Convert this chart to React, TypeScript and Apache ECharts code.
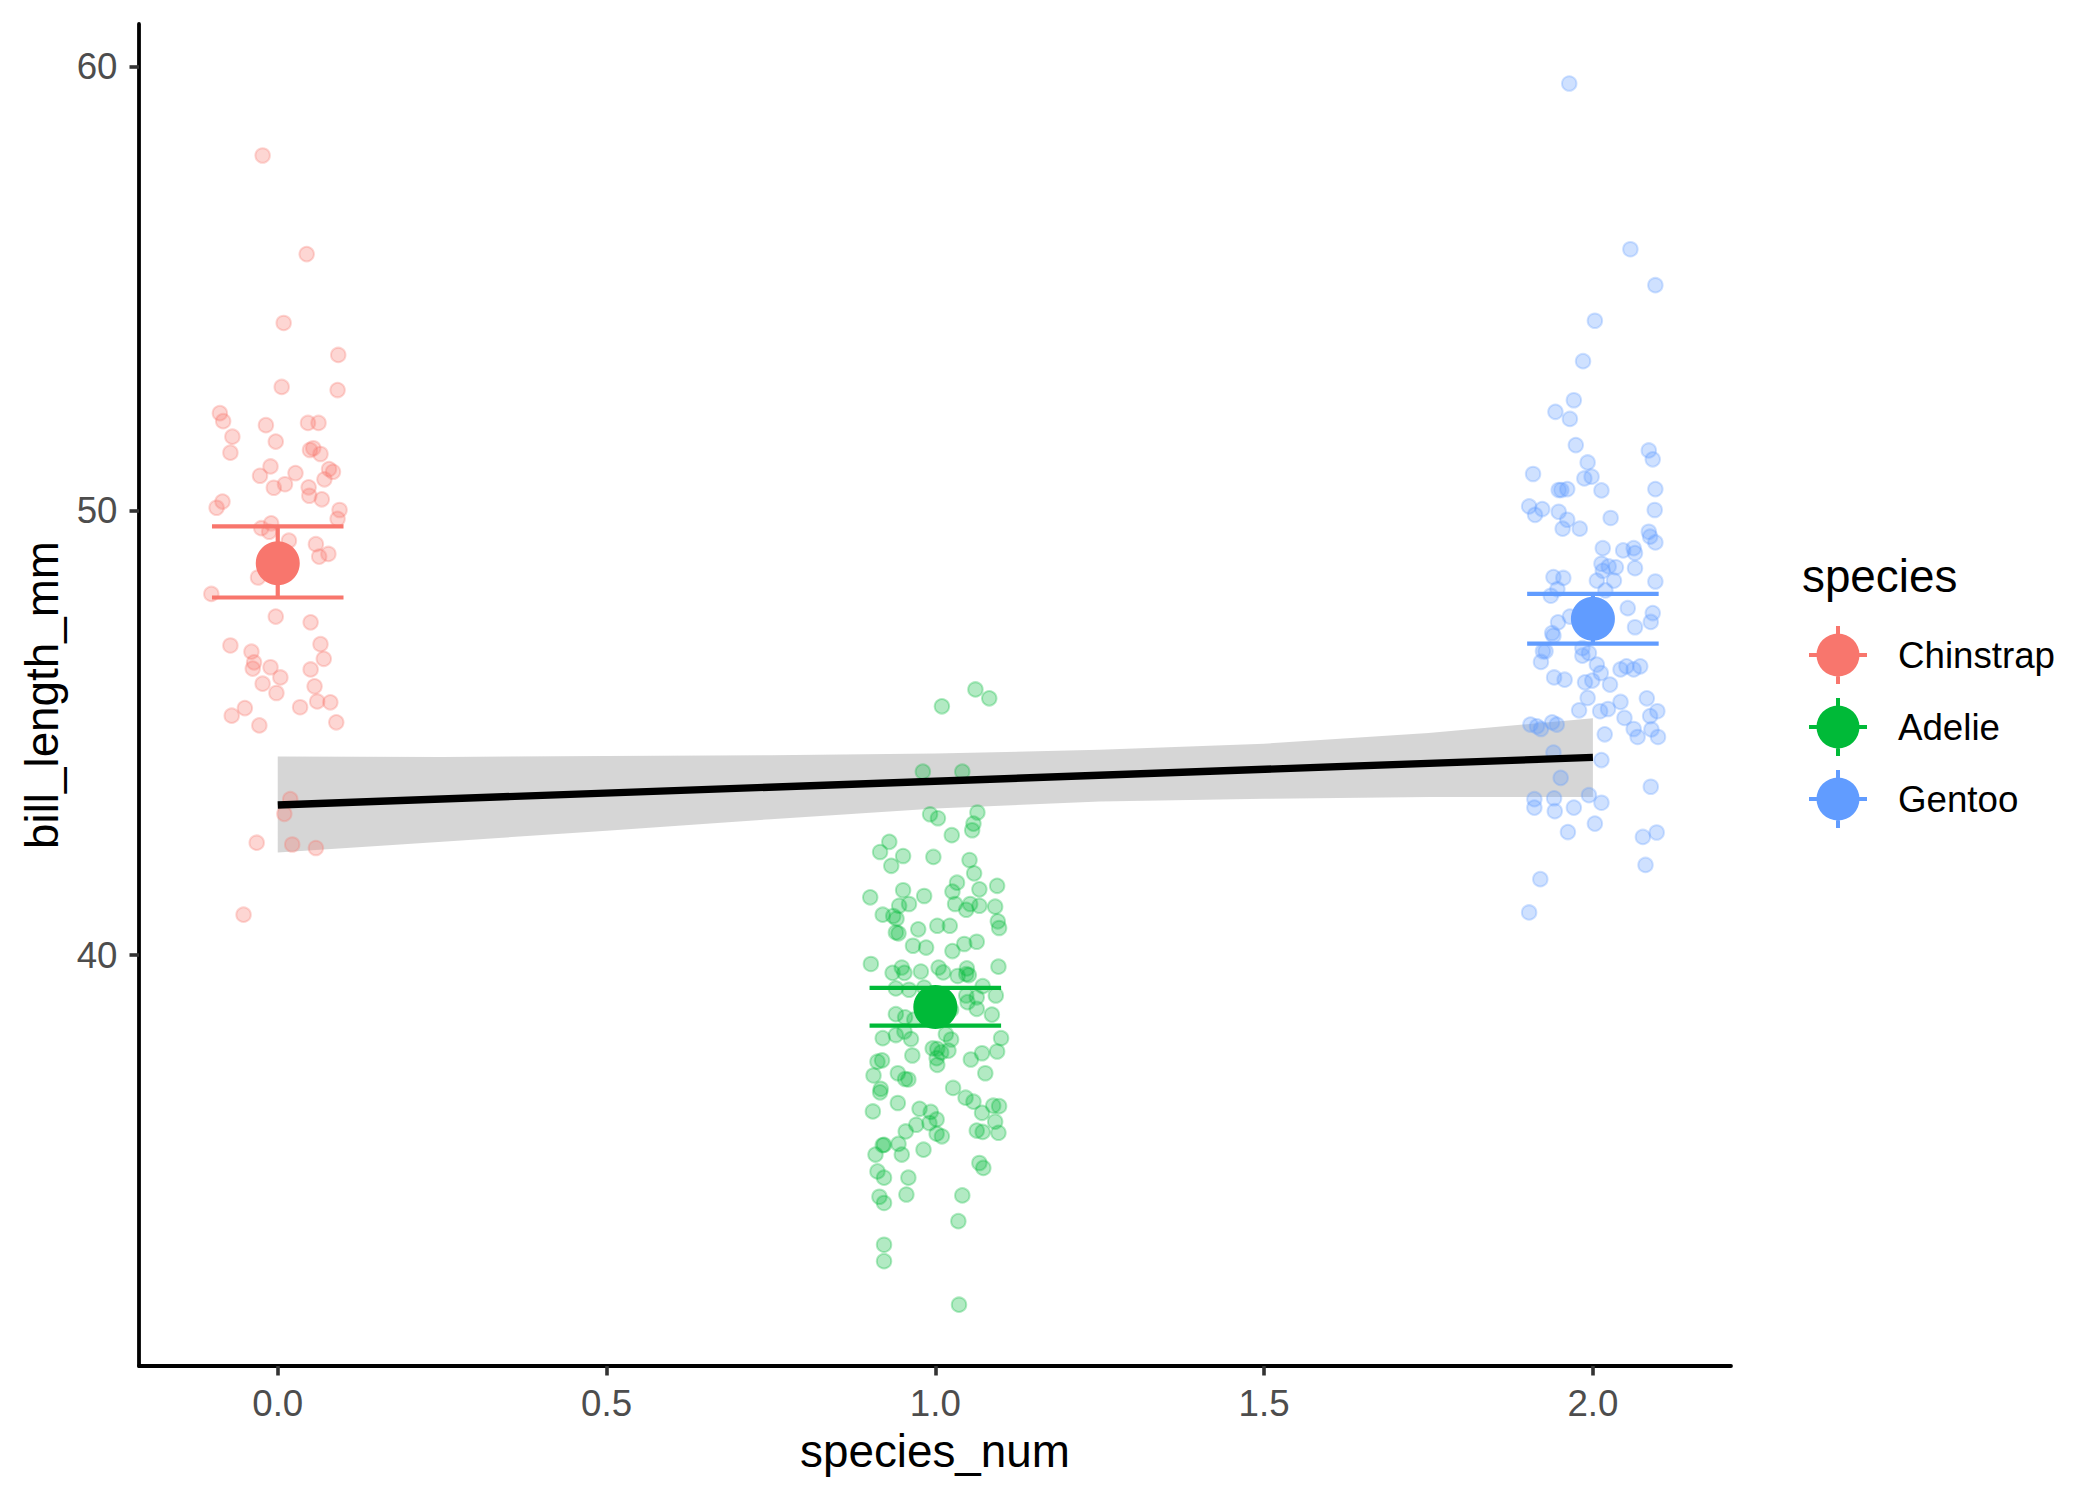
import React, { useEffect, useRef } from 'react';
import * as echarts from 'echarts';

const FONT = '"Liberation Sans", Arial, Helvetica, sans-serif';

const speciesNames = ['Chinstrap', 'Adelie', 'Gentoo'];
const speciesColors = ['#F8766D', '#00BA38', '#619CFF'];
const pointFills = ['rgba(248,118,109,0.3)', 'rgba(0,186,56,0.3)', 'rgba(97,156,255,0.3)'];

const xTicks = [0, 0.5, 1, 1.5, 2];
const yTicks = [40, 50, 60];

// jittered raw points (species_num + jitter, bill_length_mm)
const chinstrapX = [-0.023, 0.044, 0.009, 0.092, 0.006, 0.091, -0.088, -0.083, -0.018, 0.046, 0.062, -0.069, -0.003, -0.072, 0.049, 0.054, 0.065, -0.011, -0.027, 0.027, 0.078, 0.084, 0.071, -0.006, 0.011, 0.047, 0.048, 0.067, -0.084, -0.093, 0.094, 0.091, -0.010, -0.025, -0.013, 0.017, 0.058, 0.063, 0.077, -0.030, -0.101, -0.003, 0.050, -0.072, -0.040, 0.065, -0.036, -0.038, -0.011, 0.004, 0.070, 0.050, -0.023, -0.002, 0.056, 0.060, 0.080, 0.034, -0.050, -0.070, -0.028, 0.089, 0.019, 0.010, -0.032, 0.022, 0.058, -0.052];
const chinstrapY = [58.0, 55.78, 54.23, 53.51, 52.79, 52.72, 52.20, 52.02, 51.93, 51.98, 51.98, 51.67, 51.56, 51.31, 51.37, 51.41, 51.28, 51.0, 50.79, 50.85, 50.94, 50.88, 50.71, 50.52, 50.60, 50.53, 50.34, 50.26, 50.21, 50.07, 50.02, 49.82, 49.72, 49.61, 49.53, 49.33, 49.25, 48.97, 49.03, 48.50, 48.13, 47.62, 47.49, 46.97, 46.83, 47.0, 46.59, 46.45, 46.48, 46.25, 46.67, 46.43, 46.11, 45.90, 46.05, 45.71, 45.69, 45.58, 45.56, 45.39, 45.17, 45.24, 43.51, 43.18, 42.53, 42.49, 42.41, 40.91];

const adelieX = [1.061, 1.082, 1.010, 0.981, 1.041, 0.992, 1.004, 1.064, 1.058, 1.056, 1.025, 0.930, 0.916, 0.951, 0.997, 0.933, 1.052, 1.059, 1.033, 0.951, 1.026, 1.067, 1.094, 0.901, 0.983, 0.960, 0.945, 1.030, 1.053, 1.067, 1.047, 1.091, 0.920, 0.936, 0.941, 1.095, 1.097, 0.974, 1.003, 1.022, 0.940, 0.944, 1.063, 1.044, 0.966, 0.986, 1.026, 0.902, 1.096, 0.949, 0.935, 0.953, 0.978, 1.005, 1.012, 1.034, 1.048, 1.047, 1.051, 1.072, 0.940, 0.960, 0.983, 1.047, 1.063, 1.092,
  0.940, 0.954, 0.968, 1.024, 1.049, 1.063, 1.086, 0.920, 0.940, 0.953, 0.963, 1.016, 1.024, 1.100, 0.996, 1.003, 1.009, 1.020, 1.002, 1.003, 0.965, 0.912, 0.919, 1.054, 1.071, 1.094, 0.906, 0.943, 0.954, 0.959, 1.076, 0.917, 0.916, 1.027, 1.046, 1.058, 0.905, 0.943, 0.976, 0.993, 1.002, 0.991, 0.971, 0.955, 1.071, 1.088, 1.097, 1.091, 1.063, 1.072, 1.096, 1.002, 1.010, 0.922, 0.920, 0.944, 0.909, 0.949, 0.982, 1.067, 1.073, 0.912, 0.922, 0.959, 0.915, 0.922, 0.956, 1.041, 1.035, 0.922, 0.922, 1.036];
const adelieY = [45.98, 45.78, 45.60, 44.13, 44.13, 43.17, 43.08, 43.21, 42.96, 42.81, 42.70, 42.55, 42.32, 42.23, 42.21, 42.01, 42.14, 41.84, 41.63, 41.46, 41.43, 41.48, 41.56, 41.30, 41.33, 41.15, 41.11, 41.15, 41.15, 41.11, 41.02, 41.09, 40.91, 40.88, 40.82, 40.76, 40.61, 40.58, 40.66, 40.66, 40.51, 40.49, 40.30, 40.25, 40.21, 40.17, 40.09, 39.80, 39.74, 39.72, 39.60, 39.60, 39.63, 39.72, 39.61, 39.53, 39.70, 39.57, 39.55, 39.30, 39.25, 39.22, 39.27, 39.09, 39.05, 39.09,
  38.67, 38.60, 38.55, 38.77, 38.94, 38.79, 38.66, 38.13, 38.20, 38.28, 38.11, 38.22, 38.10, 38.13, 37.90, 37.89, 37.81, 37.85, 37.68, 37.53, 37.74, 37.60, 37.63, 37.65, 37.79, 37.83, 37.29, 37.34, 37.21, 37.20, 37.34, 36.99, 36.91, 37.01, 36.79, 36.70, 36.48, 36.67, 36.54, 36.47, 36.30, 36.22, 36.18, 36.03, 36.45, 36.61, 36.60, 36.25, 36.05, 36.02, 36.00, 35.98, 35.92, 35.73, 35.72, 35.75, 35.51, 35.51, 35.62, 35.32, 35.21, 35.13, 34.99, 34.99, 34.56, 34.42, 34.61, 34.59, 34.01, 33.48, 33.11, 32.13];

const gentooX = [1.964, 2.057, 2.095, 2.003, 1.985, 1.971, 1.943, 1.965, 1.974, 2.085, 2.091, 1.992, 1.909, 1.987, 1.998, 1.948, 1.952, 1.961, 2.013, 2.095,
  1.903, 1.912, 1.923, 1.948, 1.961, 1.954, 1.980, 2.027, 2.094, 2.085, 2.087, 2.095, 2.015, 2.046, 2.062, 2.064, 2.013, 2.024, 2.035, 2.064, 2.015, 1.940, 1.955, 2.006, 2.032, 2.095, 1.946, 2.019, 1.936, 2.053, 2.091, 1.965, 1.947, 2.088, 2.064, 1.938, 1.940, 1.924, 1.928, 1.984, 1.984, 1.994, 1.921, 2.006, 2.042, 2.051, 2.062, 2.072, 1.941, 1.957, 1.988, 1.999, 2.012, 2.026, 1.992, 2.082, 1.979, 2.011, 2.023, 2.042, 2.048, 2.087, 2.098, 1.905, 1.915, 1.921, 1.938, 1.945, 2.062, 2.089, 2.018, 2.068, 2.099, 1.940, 2.013, 1.951, 2.088, 1.911, 1.911, 1.941, 1.942, 1.971, 1.994, 2.013, 2.003, 1.962, 2.076, 2.097, 2.080, 1.920, 1.903];
const gentooY = [59.62, 55.89, 55.08, 54.28, 53.37, 52.49, 52.23, 52.07, 51.48, 51.36, 51.16, 51.09, 50.83, 50.73, 50.77, 50.47, 50.47, 50.49, 50.46, 50.49,
  50.10, 49.91, 50.04, 49.98, 49.80, 49.60, 49.60, 49.84, 50.02, 49.53, 49.42, 49.29, 49.16, 49.11, 49.16, 49.05, 48.81, 48.75, 48.73, 48.71, 48.65, 48.51, 48.49, 48.43, 48.43, 48.41, 48.24, 48.21, 48.09, 47.81, 47.70, 47.62, 47.49, 47.50, 47.38, 47.25, 47.19, 46.84, 46.84, 46.91, 46.74, 46.80, 46.60, 46.54, 46.43, 46.50, 46.43, 46.50, 46.25, 46.20, 46.14, 46.18, 46.35, 46.09, 45.79, 45.78, 45.51, 45.49, 45.54, 45.70, 45.34, 45.38, 45.49, 45.19, 45.15, 45.09, 45.24, 45.19, 45.09, 45.08, 44.97, 44.91, 44.91, 44.56, 44.39, 43.99, 43.79, 43.51, 43.32, 43.53, 43.24, 43.32, 43.60, 43.43, 42.96, 42.77, 42.66, 42.76, 42.03, 41.71, 40.96];

// mean +/- 95% CI per species
const meanX = [0, 1, 2];
const meanY = [48.82, 38.83, 47.57];
const ciLow = [48.05, 38.41, 47.01];
const ciHigh = [49.65, 39.26, 48.13];

// linear fit and its confidence band
const lineX = [0, 2];
const lineY = [43.38, 44.45];
const bandX = [0, 0.25, 0.5, 0.75, 1, 1.25, 1.5, 1.75, 2];
const bandUpper = [44.47, 44.46, 44.48, 44.50, 44.54, 44.62, 44.76, 45.00, 45.33];
const bandLower = [42.31, 42.55, 42.80, 43.06, 43.30, 43.46, 43.52, 43.56, 43.56];

const zip = (xs: number[], ys: number[]) => xs.map((x, i) => [x, ys[i]]);

// point with error-bar cross, as in the ggplot legend key
const legendIcon = 'path://M0 27L58 27L58 31L0 31Z M27 0L31 0L31 58L27 58Z M7.5 29A21.5 21.5 0 1 1 50.5 29A21.5 21.5 0 1 1 7.5 29Z';

const App: React.FC = () => {
  const ref = useRef<HTMLDivElement>(null);

  useEffect(() => {
    if (!ref.current) return;
    const chart = echarts.init(ref.current, null, { renderer: 'svg' });

    const rawSets = [zip(chinstrapX, chinstrapY), zip(adelieX, adelieY), zip(gentooX, gentooY)];

    const pointSeries = rawSets.map((d, i) => ({
      type: 'scatter',
      name: speciesNames[i] + ' points',
      data: d,
      symbolSize: 14.5,
      itemStyle: { color: pointFills[i], borderColor: pointFills[i], borderWidth: 2, opacity: 1 },
      silent: true,
    }));

    const bandSeries = {
      type: 'custom',
      name: 'band',
      data: [[bandX[0], bandUpper[0]]],
      silent: true,
      renderItem: (_params: any, api: any) => {
        const top = bandX.map((x, i) => api.coord([x, bandUpper[i]]));
        const bottom = bandX.map((x, i) => api.coord([x, bandLower[i]])).reverse();
        return {
          type: 'polygon',
          shape: { points: top.concat(bottom) },
          style: { fill: 'rgba(153,153,153,0.4)' },
        };
      },
    };

    const lineSeries = {
      type: 'line',
      name: 'fit',
      data: zip(lineX, lineY),
      showSymbol: false,
      symbol: 'none',
      lineStyle: { color: '#000', width: 7.4 },
      silent: true,
    };

    const errorSeries = {
      type: 'custom',
      name: 'errorbars',
      data: meanX.map((x, i) => [x, ciLow[i], ciHigh[i]]),
      encode: { x: 0, y: [1, 2] },
      silent: true,
      renderItem: (params: any, api: any) => {
        const x = api.value(0);
        const lo = api.value(1);
        const hi = api.value(2);
        const c = speciesColors[params.dataIndex];
        const half = 0.1;
        const a = api.coord([x - half, hi]);
        const b = api.coord([x + half, hi]);
        const e = api.coord([x - half, lo]);
        const f = api.coord([x + half, lo]);
        const m1 = api.coord([x, hi]);
        const m2 = api.coord([x, lo]);
        const st = { stroke: c, lineWidth: 4.2 };
        return {
          type: 'group',
          children: [
            { type: 'line', shape: { x1: a[0], y1: a[1], x2: b[0], y2: b[1] }, style: st },
            { type: 'line', shape: { x1: e[0], y1: e[1], x2: f[0], y2: f[1] }, style: st },
            { type: 'line', shape: { x1: m1[0], y1: m1[1], x2: m2[0], y2: m2[1] }, style: st },
          ],
        };
      },
    };

    const meanSeries = speciesNames.map((n, i) => ({
      type: 'scatter',
      name: n,
      data: [[meanX[i], meanY[i]]],
      symbolSize: 44,
      itemStyle: { color: speciesColors[i], opacity: 1 },
      silent: true,
    }));

    chart.setOption({
      animation: false,
      backgroundColor: '#ffffff',
      textStyle: { fontFamily: FONT },
      grid: { left: 139, top: 24, width: 1592, height: 1342, containLabel: false },
      xAxis: {
        type: 'value',
        min: -0.211,
        max: 2.21,
        name: 'species_num',
        nameLocation: 'middle',
        nameGap: 62,
        nameTextStyle: { fontSize: 45.8, color: '#000', fontFamily: FONT },
        axisLine: { show: true, onZero: false, lineStyle: { color: '#000', width: 3.8 } },
        axisTick: { show: true, length: 9.5, customValues: xTicks, lineStyle: { color: '#333333', width: 3.6 } },
        axisLabel: {
          customValues: xTicks,
          formatter: (v: number) => v.toFixed(1),
          fontSize: 36.7,
          color: '#4D4D4D',
          fontFamily: FONT,
          margin: 19,
        },
        splitLine: { show: false },
      },
      yAxis: {
        type: 'value',
        min: 30.75,
        max: 60.96,
        name: 'bill_length_mm',
        nameLocation: 'middle',
        nameGap: 72,
        nameTextStyle: { fontSize: 45.8, color: '#000', fontFamily: FONT },
        axisLine: { show: true, onZero: false, lineStyle: { color: '#000', width: 3.8 } },
        axisTick: { show: true, length: 9.5, customValues: yTicks, lineStyle: { color: '#333333', width: 3.6 } },
        axisLabel: {
          customValues: yTicks,
          formatter: (v: number) => String(v),
          fontSize: 36.7,
          color: '#4D4D4D',
          fontFamily: FONT,
          margin: 21.5,
        },
        splitLine: { show: false },
      },
      legend: {
        orient: 'vertical',
        left: 1809,
        top: 626,
        padding: 0,
        itemWidth: 58,
        itemHeight: 58,
        itemGap: 14,
        selectedMode: false,
        data: speciesNames.map((n, i) => ({ name: n, icon: legendIcon, itemStyle: { color: speciesColors[i] } })),
        textStyle: { fontSize: 36.7, color: '#000', fontFamily: FONT, padding: [0, 0, 0, 26] },
      },
      graphic: [
        {
          type: 'text',
          left: 1802,
          top: 553,
          style: { text: 'species', fontSize: 45.8, fontFamily: FONT, fill: '#000' },
        },
      ],
      series: [...pointSeries, bandSeries, lineSeries, errorSeries, ...meanSeries],
    });

    return () => {
      chart.dispose();
    };
  }, []);

  return (
    <div
      ref={ref}
      style={{ position: 'absolute', left: 0, top: 0, width: 2100, height: 1500, background: '#fff' }}
    />
  );
};

export default App;
